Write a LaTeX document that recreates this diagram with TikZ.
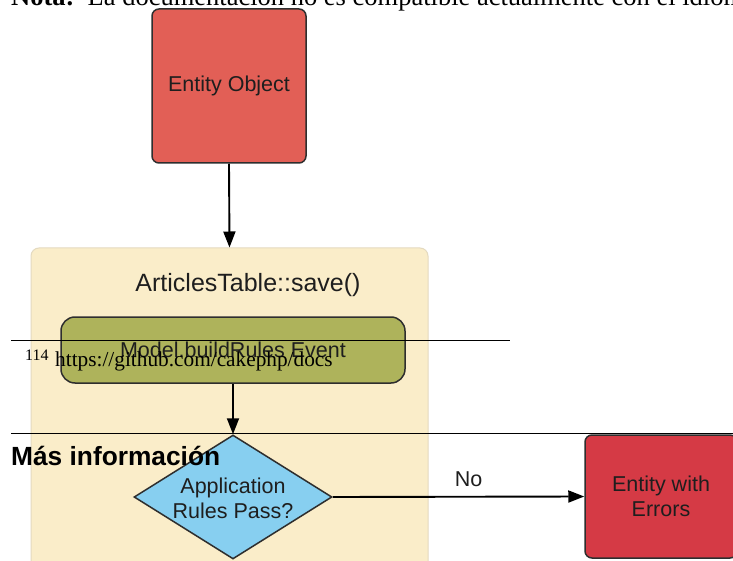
\documentclass[tikz,border=0pt]{standalone}
\usepackage{fontspec}
\setmainfont{Liberation Serif}
\newfontfamily\hv{Liberation Sans}
\usetikzlibrary{arrows.meta,shapes.geometric}
\definecolor{eored}{HTML}{E25F56}
\definecolor{errred}{HTML}{D53A45}
\definecolor{olive}{HTML}{AEB35B}
\definecolor{cream}{HTML}{FAEDC9}
\definecolor{creamline}{HTML}{E4DAC0}
\definecolor{skyblue}{HTML}{87CFF0}
\definecolor{boxline}{HTML}{2E2E2E}
\definecolor{boxtext}{HTML}{1E1E1E}
\tikzset{
  boxfont/.style={font=\hv\fontsize{21.5}{25}\selectfont, text=boxtext},
  squarebox/.style={draw=boxline, line width=1.5pt, rounded corners=7pt, inner sep=0pt, boxfont, align=center},
  flow/.style={draw=black, line width=1.9pt, -{Triangle[length=16pt,width=12pt]}},
  rulefn/.style={draw=black, line width=0.9pt}
}
\begin{document}
\begin{tikzpicture}[x=1pt,y=-1pt]
\clip (0,0) rectangle (733,561);
\fill[white] (0,0) rectangle (733,561);
% container
\node[draw=creamline, fill=cream, line width=1pt, rounded corners=8pt, minimum width=397pt, minimum height=372pt, inner sep=0pt] (save) at (229.5,434) {};
\node[font=\hv\fontsize{25}{28}\selectfont, text=boxtext, anchor=base, inner sep=0pt] (savetitle) at (248,291.5) {ArticlesTable::save()};
% boxes
\node[squarebox, fill=eored, minimum width=154pt, minimum height=154pt] (eo) at (229,86) {Entity Object};
\node[squarebox, fill=olive, rounded corners=14pt, minimum width=344pt, minimum height=66pt] (ev) at (233,350) {Model.buildRules Event};
\node[diamond, draw=boxline, line width=1.5pt, fill=skyblue, minimum width=198pt, minimum height=124pt, inner sep=0pt] (dec) at (233,497) {};
\node[boxfont, align=center, inner sep=0pt] (dectext) at (233,498) {Application\\Rules Pass?};
\node[squarebox, fill=errred, minimum width=152pt, minimum height=123pt] (err) at (661,496.5) {Entity with\\Errors};
% connectors
\draw[flow] (eo.south) -- (save.north);
\draw[flow] (ev.south) -- (dec.north);
\draw[flow] (dec.east) -- node[pos=0.54, above=9pt, boxfont, inner sep=0pt] (no) {No} (err.west);
% page overlays
\node[anchor=base west, inner sep=0pt, font=\fontsize{26.5}{30}\selectfont] (nota) at (11,6) {\textbf{Nota:}\ \ La documentación no es compatible actualmente con el idioma};
\draw[rulefn] (11,340) -- (510,340);
\node[anchor=base west, inner sep=0pt, font=\fontsize{16}{18}\selectfont] (fnmark) at (25,360) {114};
\node[anchor=base west, inner sep=0pt, font=\fontsize{21.3}{24}\selectfont] (fnurl) at (55,366) {https://github.com/cakephp/docs};
\draw[rulefn] (11,433) -- (733,433);
\node[anchor=base west, inner sep=0pt, font=\hv\bfseries\fontsize{26.3}{29}\selectfont] (mas) at (11,465) {Más información};
\end{tikzpicture}
\end{document}
